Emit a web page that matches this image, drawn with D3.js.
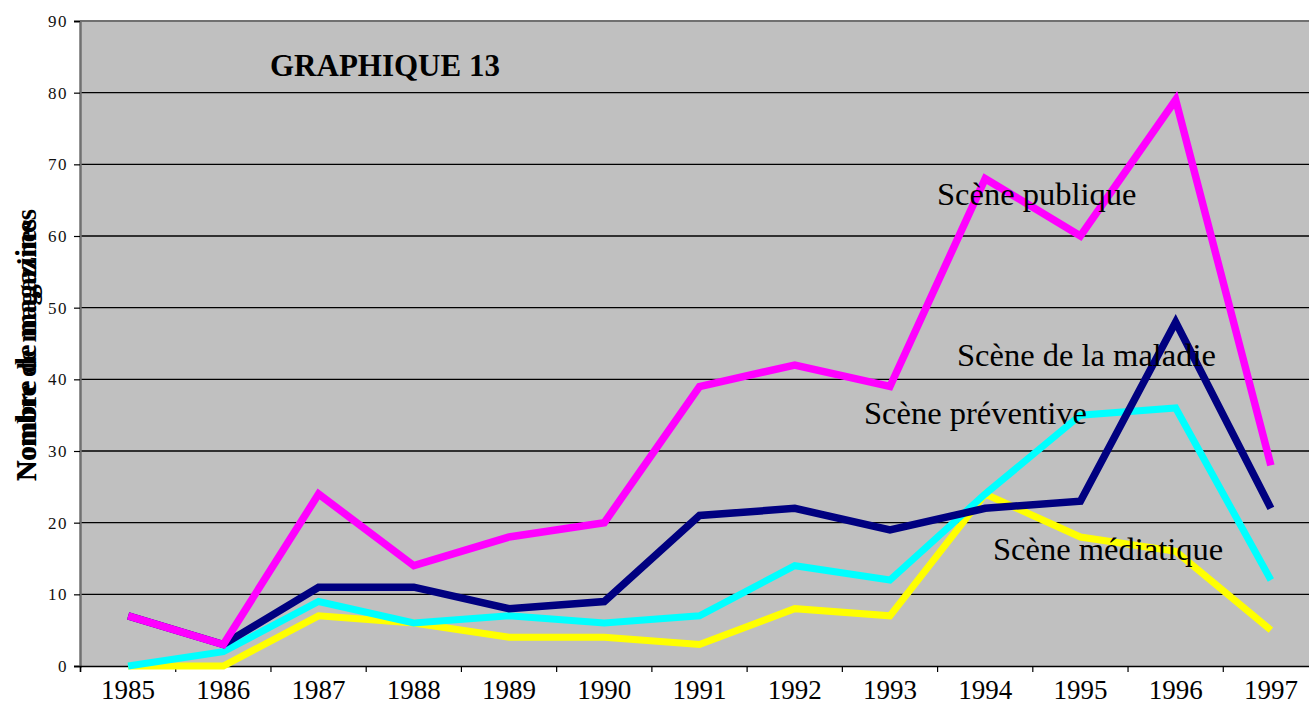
<!DOCTYPE html>
<html>
<head>
<meta charset="utf-8">
<script src="https://cdn.jsdelivr.net/npm/d3@7"></script>
<style>
  html, body { margin: 0; padding: 0; background: #ffffff; }
  svg { display: block; }
</style>
</head>
<body>
<svg id="chart" width="1309" height="706"></svg>
<script>
const years = ["1985","1986","1987","1988","1989","1990","1991","1992","1993","1994","1995","1996","1997"];
const scenePublique = [7, 3, 24, 14, 18, 20, 39, 42, 39, 68, 60, 79, 28];
const sceneMaladie  = [7, 3, 11, 11, 8, 9, 21, 22, 19, 22, 23, 48, 22];
const scenePreventive = [0, 2, 9, 6, 7, 6, 7, 14, 12, 24, 35, 36, 12];
const sceneMediatique = [0, 0, 7, 6, 4, 4, 3, 8, 7, 24, 18, 16, 5];
const yTicks = [0, 10, 20, 30, 40, 50, 60, 70, 80, 90];
const seriesNames = ["Scène médiatique", "Scène préventive", "Scène de la maladie", "Scène publique"];
const title = "GRAPHIQUE 13";
const yTitle = "Nombre de magazines";

(function () {
const svg = d3.select("#chart");
const pLeft = 80, pRight = 1318, pTop = 21, pBottom = 666;
const serif = "'Liberation Serif', 'Times New Roman', serif";

const xLin = d3.scaleLinear().domain([0, years.length]).range([pLeft, pRight]);
const xPt = i => xLin(i + 0.5) + 0.5;
const y = d3.scaleLinear().domain([0, 90]).range([pBottom, pTop]);

// plot background
svg.append("rect")
  .attr("x", pLeft).attr("y", pTop)
  .attr("width", 1309 - pLeft + 5).attr("height", pBottom - pTop)
  .attr("fill", "#c0c0c0");

// gridlines
svg.append("g").selectAll("line")
  .data(yTicks.filter(d => d > 0 && d < 90))
  .join("line")
  .attr("x1", pLeft).attr("x2", 1309)
  .attr("y1", d => y(d)).attr("y2", d => y(d))
  .attr("stroke", "#000").attr("stroke-width", 1.3);

// top border
svg.append("line")
  .attr("x1", pLeft).attr("x2", 1309)
  .attr("y1", pTop).attr("y2", pTop)
  .attr("stroke", "#707070").attr("stroke-width", 2);

// y axis
const yAxis = d3.axisLeft(y).tickValues(yTicks).tickSize(6).tickPadding(6).tickFormat(d3.format("d"));
const gy = svg.append("g").attr("transform", `translate(${pLeft},0)`).call(yAxis)
  .attr("font-family", serif).attr("font-size", 17);
gy.select(".domain").attr("stroke", "#707070").attr("stroke-width", 2.5);
gy.selectAll(".tick line").attr("stroke", "#000").attr("stroke-width", 1.2);
gy.selectAll(".tick text")
  .attr("font-family", serif)
  .attr("font-size", 17).attr("fill", "#111")
  .attr("letter-spacing", 1.5)
  .attr("dy", "0.33em");

// x axis ticks (band boundaries)
const xAxis = d3.axisBottom(xLin).tickValues(d3.range(0, years.length + 1)).tickSize(6).tickFormat("");
const gx = svg.append("g").attr("transform", `translate(0,${pBottom})`).call(xAxis);
gx.select(".domain").attr("stroke", "#000").attr("stroke-width", 1.5);
gx.selectAll(".tick line").attr("stroke", "#000").attr("stroke-width", 1.2);

// x labels
svg.append("g").selectAll("text")
  .data(years)
  .join("text")
  .attr("x", (d, i) => xPt(i))
  .attr("y", 699)
  .attr("text-anchor", "middle")
  .attr("font-family", serif)
  .attr("font-size", 27)
  .attr("fill", "#000")
  .text(d => d);

// lines
const lineGen = d3.line().x((d, i) => xPt(i)).y(d => y(d));
const seriesData = [
  { values: sceneMediatique, color: "#ffff00", width: 7 },
  { values: scenePreventive, color: "#00ffff", width: 7 },
  { values: sceneMaladie, color: "#000080", width: 7.5 },
  { values: scenePublique, color: "#ff00ff", width: 7.5 }
];
svg.append("g").selectAll("path")
  .data(seriesData)
  .join("path")
  .attr("d", d => lineGen(d.values))
  .attr("fill", "none")
  .attr("stroke", d => d.color)
  .attr("stroke-width", d => d.width)
  .attr("stroke-linejoin", "miter")
  .attr("stroke-miterlimit", 4)
  .attr("stroke-linecap", "butt");

// series labels
const labelPos = [
  { name: seriesNames[3], x: 937, y: 205 },
  { name: seriesNames[2], x: 957, y: 366 },
  { name: seriesNames[1], x: 864, y: 424 },
  { name: seriesNames[0], x: 993, y: 560 }
];
svg.append("g").selectAll("text")
  .data(labelPos)
  .join("text")
  .attr("x", d => d.x).attr("y", d => d.y)
  .attr("font-family", serif)
  .attr("font-size", 32.5)
  .attr("fill", "#000")
  .text(d => d.name);

// title
svg.append("text")
  .attr("x", 270).attr("y", 76)
  .attr("font-family", serif)
  .attr("font-weight", "bold")
  .attr("font-size", 31)
  .attr("fill", "#000")
  .text(title);

// y title (doubled, as in the reference)
const yt = svg.append("g").attr("transform", "translate(36,481) rotate(-90)");
yt.append("text")
  .attr("x", 0).attr("y", 0)
  .attr("font-family", serif)
  .attr("font-weight", "bold").attr("font-size", 29)
  .attr("textLength", 272).attr("lengthAdjust", "spacingAndGlyphs")
  .attr("fill", "#000")
  .text(yTitle);
yt.append("text")
  .attr("x", 0).attr("y", 0)
  .attr("font-family", serif)
  .attr("font-weight", "bold").attr("font-size", 28)
  .attr("textLength", 262).attr("lengthAdjust", "spacingAndGlyphs")
  .attr("fill", "#000")
  .text(yTitle);
})();
</script>
</body>
</html>
